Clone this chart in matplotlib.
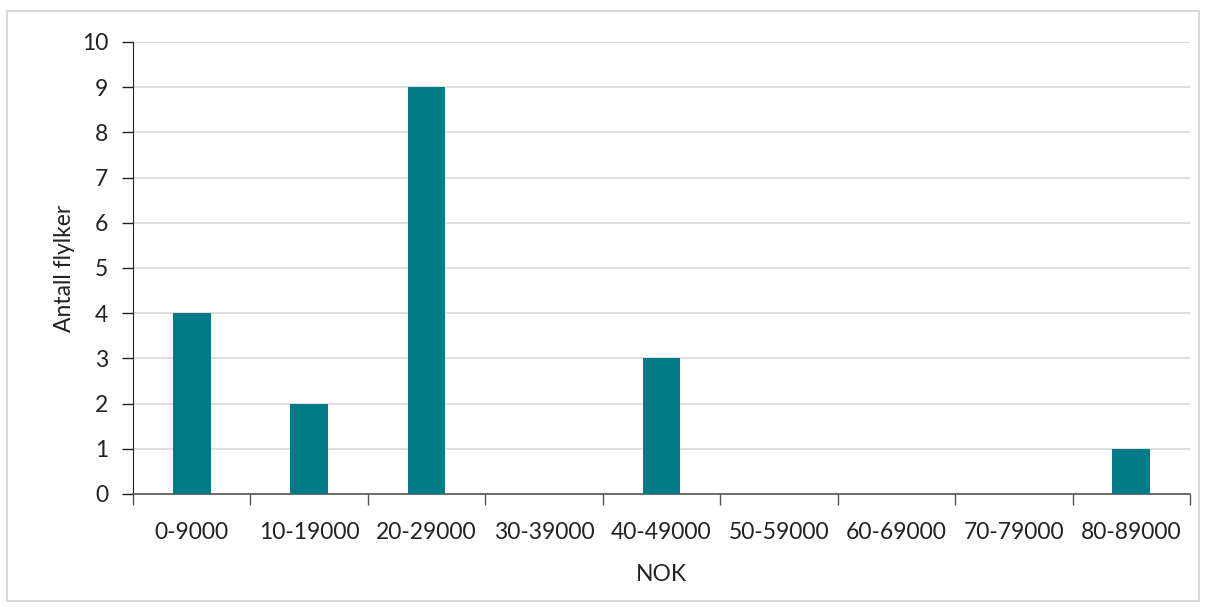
import matplotlib.pyplot as plt
import numpy as np
from matplotlib.patches import Rectangle

categories = ["0-9000", "10-19000", "20-29000", "30-39000", "40-49000",
              "50-59000", "60-69000", "70-79000", "80-89000"]
counts = [4, 2, 9, 0, 3, 0, 0, 0, 1]

plt.rcParams['font.family'] = ['Lato', 'DejaVu Sans']
fs = 16.5

fig = plt.figure(figsize=(12.06, 6.07), dpi=100)
ax = fig.add_axes([133/1206, 1 - 494/607, (1190-133)/1206, (494-42)/607])

# light border around the whole chart
fig.patches.append(Rectangle((7/1206, 1 - 601/607), 1192/1206, 590/607,
                             transform=fig.transFigure, fill=False,
                             edgecolor="#D9D9D9", linewidth=1.5))

x = np.arange(len(categories))
ax.bar(x, counts, width=0.32, color="#007A87", zorder=3)

ax.set_xlim(-0.5, len(categories) - 0.5)
ax.set_ylim(0, 10)
ax.set_yticks(range(0, 11))
ax.yaxis.grid(True, color="#D9D9D9", linewidth=1.2, zorder=0)

ax.set_xticks(x)
ax.set_xticklabels(categories)
ax.tick_params(axis="x", length=0, pad=20, labelsize=fs, colors="#222222")
ax.set_xticks(np.arange(-0.5, len(categories)), minor=True)
ax.tick_params(axis="x", which="minor", length=8, width=1, color="#555555")
ax.tick_params(axis="y", length=8, width=1, color="#222222", labelsize=fs,
               labelcolor="#222222", pad=10)

for s in ["top", "right"]:
    ax.spines[s].set_visible(False)
ax.spines["left"].set_color("#222222")
ax.spines["bottom"].set_color("#555555")
ax.spines["bottom"].set_linewidth(1.2)

ax.set_xlabel("NOK", fontsize=fs, color="#222222", labelpad=15)
ax.set_ylabel("Antall flylker", fontsize=fs, color="#222222", labelpad=5)

fig.savefig("out.png", dpi=100)
